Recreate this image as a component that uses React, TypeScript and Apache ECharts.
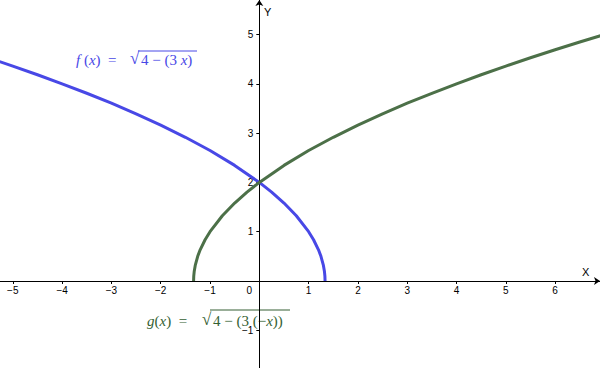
import React, { useEffect, useRef } from "react";
import * as echarts from "echarts";

const fX = [-5.3, -5, -4.5, -4, -3.5, -3, -2.5, -2, -1.5, -1, -0.5, 0, 0.25, 0.5, 0.75, 1, 1.1, 1.2, 1.25, 1.3, 1.32, 1.33, 1.3333];
const fY = [4.461, 4.359, 4.183, 4.0, 3.808, 3.606, 3.391, 3.162, 2.915, 2.646, 2.345, 2.0, 1.803, 1.581, 1.323, 1.0, 0.837, 0.632, 0.5, 0.316, 0.2, 0.1, 0];

// g(x) = sqrt(4 - 3(-x))
const gX = [-1.3333, -1.33, -1.32, -1.3, -1.25, -1.2, -1.1, -1, -0.75, -0.5, -0.25, 0, 0.5, 1, 1.5, 2, 2.5, 3, 3.5, 4, 4.5, 5, 5.5, 6, 6.5, 7];
const gY = [0, 0.1, 0.2, 0.316, 0.5, 0.632, 0.837, 1.0, 1.323, 1.581, 1.803, 2.0, 2.345, 2.646, 2.915, 3.162, 3.391, 3.606, 3.808, 4.0, 4.183, 4.359, 4.528, 4.69, 4.848, 5.0];

const xTicks = [-5, -4, -3, -2, -1, 0, 1, 2, 3, 4, 5, 6];
const yTicks = [-1, 1, 2, 3, 4, 5];

const X_MIN = -5.26;
const X_MAX = 6.91;
const Y_MIN = -1.765;
const Y_MAX = 5.7;

const BLUE = "#4848e6";
const GREEN = "#4c7048";
const GREEN_TEXT = "#355f33";

const W = 600;
const H = 368;

const fmt = (v: number) => (v < 0 ? "\u2212" + Math.abs(v) : String(v));

export default function App() {
  const ref = useRef<HTMLDivElement>(null);
  useEffect(() => {
    if (!ref.current) return;
    const chart = echarts.init(ref.current, undefined, { renderer: "svg" });
    const serif = "'Liberation Serif', 'DejaVu Serif', serif";
    const sans = "'Liberation Sans', Arial, sans-serif";
    // place axes at the zero lines
    const xAxisOffset = -((0 - Y_MIN) / (Y_MAX - Y_MIN)) * H;
    const yAxisOffset = -((0 - X_MIN) / (X_MAX - X_MIN)) * W;
    const rich = (fill: string) => ({
      i: { fontStyle: "italic", fontFamily: serif, fontSize: 15, fill },
      n: { fontFamily: serif, fontSize: 15, fill },
    });
    chart.setOption({
      animation: false,
      backgroundColor: "#ffffff",
      grid: { left: 0, right: 0, top: 0, bottom: 0, outerBoundsMode: "none", containLabel: false },
      xAxis: {
        type: "value",
        min: X_MIN,
        max: X_MAX,
        position: "bottom",
        offset: xAxisOffset,
        splitLine: { show: false },
        axisLine: {
          onZero: false,
          lineStyle: { color: "#000", width: 1 },
          symbol: ["none", "arrow"],
          symbolSize: [6, 6],
        },
        axisTick: { customValues: xTicks, length: 3, lineStyle: { color: "#000" } },
        axisLabel: {
          customValues: xTicks,
          margin: 5,
          fontSize: 10,
          fontFamily: sans,
          color: "#000",
          formatter: (v: number) => (v === 0 ? "{z|0}" : fmt(v)),
          rich: { z: { fontSize: 10, fontFamily: sans, color: "#000", padding: [0, 20, 0, 0] } },
        },
      },
      yAxis: {
        type: "value",
        min: Y_MIN,
        max: Y_MAX,
        position: "left",
        offset: yAxisOffset,
        splitLine: { show: false },
        axisLine: {
          onZero: false,
          lineStyle: { color: "#000", width: 1 },
          symbol: ["none", "arrow"],
          symbolSize: [6, 6],
        },
        axisTick: { customValues: yTicks, length: 3, lineStyle: { color: "#000" } },
        axisLabel: {
          customValues: yTicks,
          margin: 6,
          fontSize: 10,
          fontFamily: sans,
          color: "#000",
          formatter: fmt,
        },
      },
      series: [
        {
          type: "line",
          data: fX.map((x, i) => [x, fY[i]]),
          showSymbol: false,
          lineStyle: { color: BLUE, width: 3, join: "round" },
          itemStyle: { color: BLUE },
          clip: true,
        },
        {
          type: "line",
          data: gX.map((x, i) => [x, gY[i]]),
          showSymbol: false,
          lineStyle: { color: GREEN, width: 3, join: "round" },
          itemStyle: { color: GREEN },
          clip: true,
        },
      ],
      graphic: [
        { type: "text", x: 264, y: 6, style: { text: "Y", fontSize: 11, fontFamily: sans, fill: "#000" } },
        { type: "text", x: 582, y: 266, style: { text: "X", fontSize: 11, fontFamily: sans, fill: "#000" } },
        {
          type: "text",
          x: 76,
          y: 52,
          style: { text: "{i|f}{n| (}{i|x}{n|)  =  }", fill: BLUE, rich: rich(BLUE) },
        },
        { type: "text", x: 130, y: 50, style: { text: "\u221A", fontFamily: serif, fontSize: 17, fill: BLUE } },
        {
          type: "text",
          x: 141,
          y: 52,
          style: { text: "{n|4 \u2212 (3 }{i|x}{n|)}", fill: BLUE, rich: rich(BLUE) },
        },
        { type: "line", shape: { x1: 138, y1: 51, x2: 197, y2: 51 }, style: { stroke: BLUE, lineWidth: 1 } },
        {
          type: "text",
          x: 147,
          y: 313,
          style: { text: "{i|g}{n|(}{i|x}{n|)  =  }", fill: GREEN_TEXT, rich: rich(GREEN_TEXT) },
        },
        { type: "text", x: 202, y: 311, style: { text: "\u221A", fontFamily: serif, fontSize: 17, fill: GREEN_TEXT } },
        {
          type: "text",
          x: 213,
          y: 313,
          style: { text: "{n|4 \u2212 (3 (\u2212}{i|x}{n|))}", fill: GREEN_TEXT, rich: rich(GREEN_TEXT) },
        },
        { type: "line", shape: { x1: 210, y1: 310, x2: 290, y2: 310 }, style: { stroke: GREEN_TEXT, lineWidth: 1 } },
      ],
    });
    return () => chart.dispose();
  }, []);
  return (
    <div
      ref={ref}
      style={{ position: "fixed", left: 0, top: 0, width: W, height: H, background: "#fff" }}
    />
  );
}
